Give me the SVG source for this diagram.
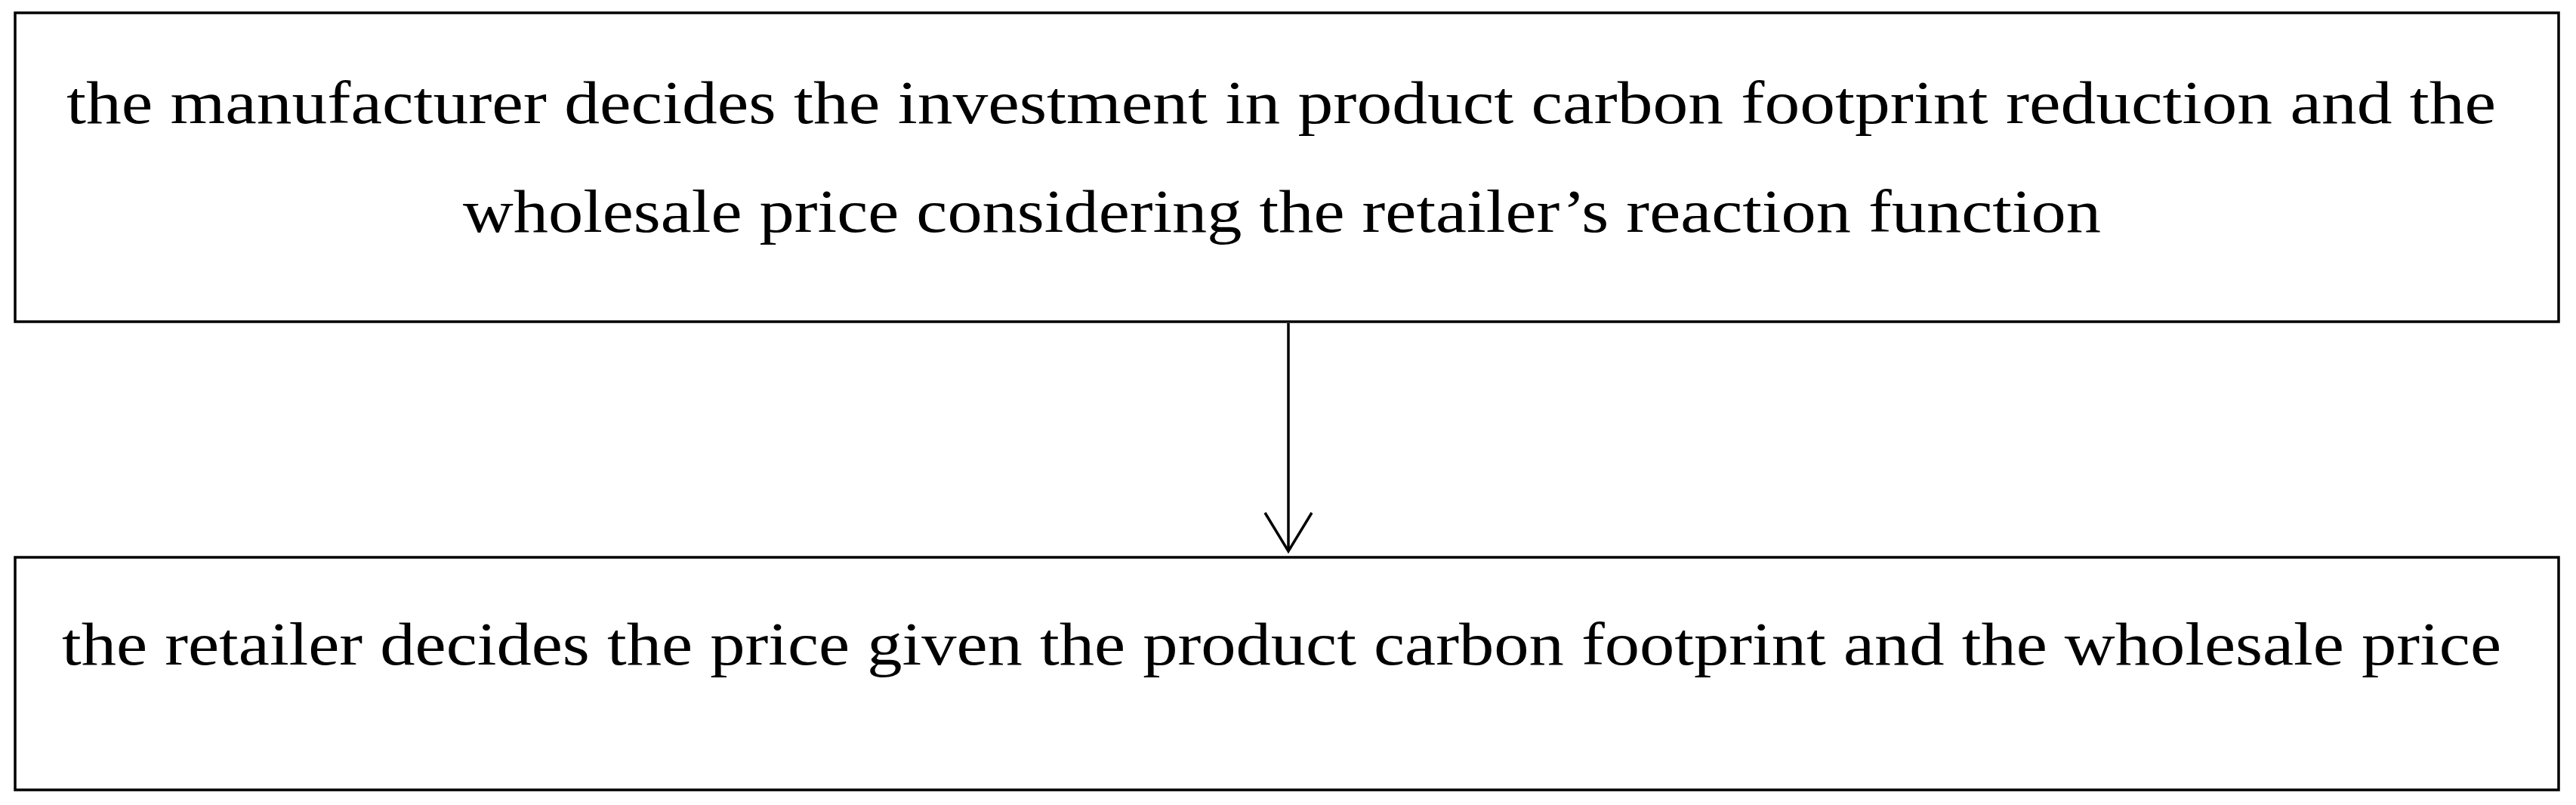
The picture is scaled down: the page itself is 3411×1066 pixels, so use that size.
<svg xmlns="http://www.w3.org/2000/svg" width="3411" height="1066" viewBox="0 0 3411 1066">
<style>
.box{fill:#ffffff;stroke:#000000;stroke-width:3.5}
.lbl{font-family:"Liberation Serif","DejaVu Serif",serif;font-size:80px;fill:#000000}
.conn{fill:none;stroke:#000000;stroke-width:3.5}
</style>
<rect x="0" y="0" width="3411" height="1066" fill="#ffffff"/>
<g id="node-manufacturer">
<rect class="box" x="20" y="17" width="3368" height="409"/>
<text class="lbl" x="88" y="163" textLength="3217" lengthAdjust="spacingAndGlyphs">the manufacturer decides the investment in product carbon footprint reduction and the</text>
<text class="lbl" x="613" y="307" textLength="2169" lengthAdjust="spacingAndGlyphs">wholesale price considering the retailer’s reaction function</text>
</g>
<g id="node-retailer">
<rect class="box" x="20" y="738" width="3368" height="308"/>
<text class="lbl" x="82" y="880" textLength="3230" lengthAdjust="spacingAndGlyphs">the retailer decides the price given the product carbon footprint and the wholesale price</text>
</g>
<g id="connectors">
<line class="conn" x1="1706" y1="428" x2="1706" y2="730"/>
<polyline class="conn" points="1675,679 1706,730 1737,679"/>
</g>
</svg>
